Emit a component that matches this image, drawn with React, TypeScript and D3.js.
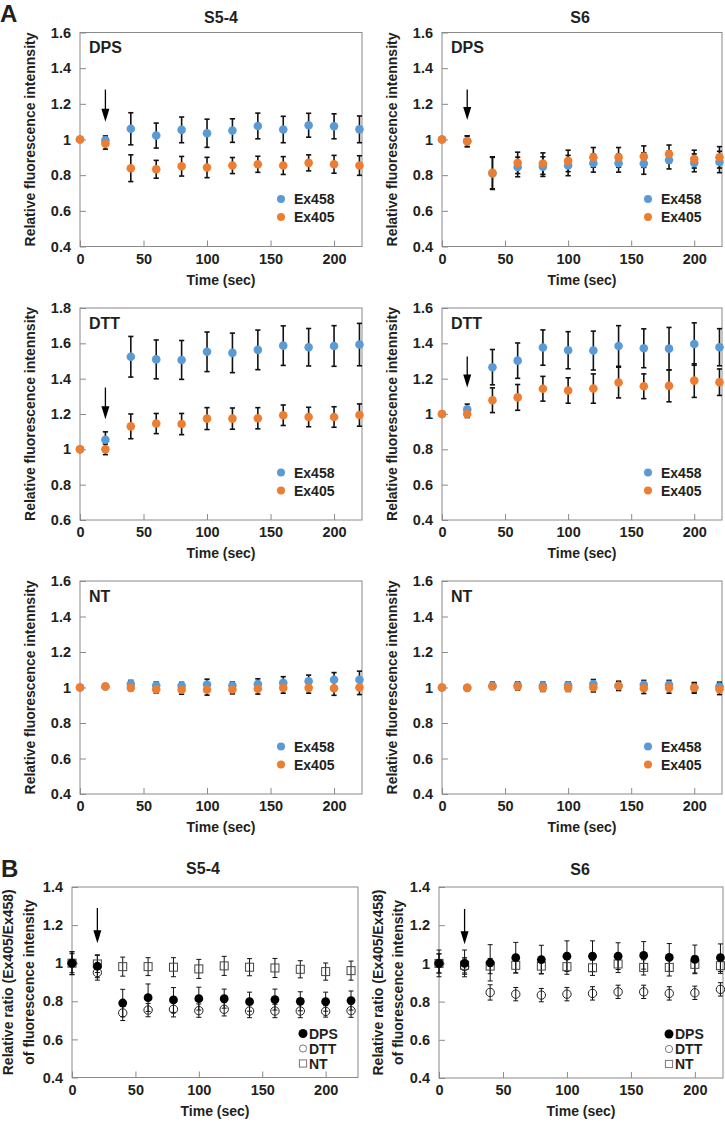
import * as d3 from 'd3'
import { useEffect, useRef } from 'react'

// sampling times (sec)
const times = [0, 20, 40, 60, 80, 100, 120, 140, 160, 180, 200, 220]
const xTickValues = [0, 50, 100, 150, 200]
const yTicksLow = [0.4, 0.6, 0.8, 1.0, 1.2, 1.4, 1.6]
const yTicksHigh = [0.6, 0.8, 1.0, 1.2, 1.4, 1.6, 1.8]
const yTicksRatio = [0.4, 0.6, 0.8, 1.0, 1.2, 1.4]

// A: DPS
const dpsS54Ex458 = [1.0, 0.995, 1.06, 1.022, 1.054, 1.035, 1.05, 1.076, 1.056, 1.08, 1.074, 1.057]
const dpsS54Ex458Err = [0, 0.025, 0.09, 0.07, 0.072, 0.079, 0.066, 0.072, 0.074, 0.067, 0.07, 0.075]
const dpsS54Ex405 = [1.0, 0.976, 0.839, 0.833, 0.85, 0.843, 0.854, 0.861, 0.854, 0.869, 0.861, 0.854]
const dpsS54Ex405Err = [0, 0.03, 0.075, 0.05, 0.055, 0.057, 0.045, 0.045, 0.05, 0.045, 0.05, 0.055]

const dpsS6Ex458 = [1.0, 0.99, 0.81, 0.846, 0.848, 0.854, 0.867, 0.867, 0.865, 0.885, 0.869, 0.874]
const dpsS6Ex458Err = [0, 0.03, 0.09, 0.055, 0.055, 0.057, 0.05, 0.05, 0.06, 0.05, 0.05, 0.06]
const dpsS6Ex405 = [1.0, 0.99, 0.813, 0.869, 0.865, 0.88, 0.9, 0.9, 0.904, 0.919, 0.89, 0.9]
const dpsS6Ex405Err = [0, 0.03, 0.09, 0.06, 0.06, 0.06, 0.055, 0.055, 0.06, 0.05, 0.05, 0.06]

// A: DTT
const dttS54Ex458 = [1.0, 1.054, 1.524, 1.509, 1.506, 1.552, 1.546, 1.563, 1.587, 1.578, 1.585, 1.593]
const dttS54Ex458Err = [0, 0.045, 0.115, 0.11, 0.11, 0.112, 0.112, 0.112, 0.112, 0.106, 0.115, 0.12]
const dttS54Ex405 = [1.0, 1.0, 1.13, 1.146, 1.143, 1.174, 1.174, 1.176, 1.193, 1.183, 1.183, 1.194]
const dttS54Ex405Err = [0, 0.03, 0.07, 0.057, 0.06, 0.062, 0.06, 0.06, 0.058, 0.055, 0.058, 0.063]

const dttS6Ex458 = [1.0, 1.026, 1.265, 1.302, 1.376, 1.361, 1.359, 1.385, 1.372, 1.37, 1.396, 1.378]
const dttS6Ex458Err = [0, 0.03, 0.1, 0.1, 0.1, 0.105, 0.11, 0.115, 0.11, 0.12, 0.12, 0.105]
const dttS6Ex405 = [1.0, 1.0, 1.078, 1.094, 1.143, 1.133, 1.144, 1.178, 1.157, 1.159, 1.189, 1.18]
const dttS6Ex405Err = [0, 0.02, 0.07, 0.073, 0.07, 0.072, 0.083, 0.087, 0.07, 0.09, 0.095, 0.075]

// A: NT
const ntS54Ex458 = [1.0, 1.006, 1.02, 1.011, 1.009, 1.017, 1.011, 1.019, 1.026, 1.035, 1.044, 1.044]
const ntS54Ex458Err = [0, 0.012, 0.02, 0.02, 0.02, 0.03, 0.02, 0.03, 0.035, 0.035, 0.04, 0.048]
const ntS54Ex405 = [1.0, 1.006, 0.998, 0.989, 0.987, 0.987, 0.989, 0.993, 0.998, 0.998, 0.996, 1.0]
const ntS54Ex405Err = [0, 0.012, 0.015, 0.02, 0.025, 0.03, 0.025, 0.03, 0.03, 0.03, 0.04, 0.04]

const ntS6Ex458 = [1.0, 0.998, 1.01, 1.012, 1.01, 1.012, 1.02, 1.01, 1.015, 1.015, 1.0, 1.005]
const ntS6Ex458Err = [0, 0.01, 0.02, 0.02, 0.02, 0.02, 0.025, 0.025, 0.025, 0.025, 0.025, 0.025]
const ntS6Ex405 = [1.0, 0.998, 1.006, 1.006, 0.998, 0.998, 1.0, 1.008, 0.996, 0.998, 0.998, 0.99]
const ntS6Ex405Err = [0, 0.01, 0.015, 0.02, 0.02, 0.02, 0.025, 0.025, 0.03, 0.03, 0.03, 0.03]

// B: ratio Ex405/Ex458
const ratioS54Dps = [1.0, 0.984, 0.791, 0.819, 0.807, 0.814, 0.814, 0.798, 0.809, 0.8, 0.798, 0.804]
const ratioS54DpsErr = [0.06, 0.06, 0.072, 0.072, 0.065, 0.06, 0.05, 0.05, 0.055, 0.05, 0.05, 0.05]
const ratioS54Dtt = [1.0, 0.951, 0.739, 0.754, 0.758, 0.751, 0.758, 0.749, 0.749, 0.749, 0.747, 0.751]
const ratioS54DttErr = [0.06, 0.04, 0.04, 0.035, 0.04, 0.035, 0.035, 0.035, 0.035, 0.035, 0.03, 0.035]
const ratioS54Nt = [1.0, 0.996, 0.982, 0.982, 0.979, 0.97, 0.986, 0.979, 0.975, 0.968, 0.956, 0.961]
const ratioS54NtErr = [0.05, 0.045, 0.05, 0.047, 0.05, 0.05, 0.05, 0.045, 0.05, 0.045, 0.045, 0.05]

const ratioS6Dps = [1.0, 1.0, 1.003, 1.03, 1.02, 1.038, 1.038, 1.038, 1.042, 1.031, 1.021, 1.03]
const ratioS6DpsErr = [0.07, 0.07, 0.095, 0.08, 0.075, 0.08, 0.08, 0.07, 0.072, 0.073, 0.075, 0.072]
const ratioS6Dtt = [1.0, 0.983, 0.848, 0.839, 0.834, 0.839, 0.843, 0.851, 0.851, 0.843, 0.846, 0.864]
const ratioS6DttErr = [0.05, 0.04, 0.04, 0.035, 0.035, 0.035, 0.035, 0.035, 0.035, 0.035, 0.035, 0.035]
const ratioS6Nt = [1.0, 0.99, 0.986, 0.99, 0.986, 0.983, 0.977, 0.997, 0.979, 0.979, 0.995, 0.988]
const ratioS6NtErr = [0.05, 0.04, 0.04, 0.04, 0.04, 0.04, 0.04, 0.045, 0.04, 0.045, 0.045, 0.04]

const FONT = '"Liberation Sans", Arial, Helvetica, sans-serif'
const INK = '#231f20'
const FRAME = '#8a8a8a'
const BLUE = '#5B9BD5'
const ORANGE = '#ED7D31'

type Box = {
  left: number
  right: number
  top: number
  bottom: number
  xMax: number
  yMin: number
  yMax: number
  yTicks: number[]
}

type Sel = d3.Selection<SVGSVGElement, unknown, null, undefined>

const fmt = (d: d3.NumberValue) => String(Math.round(+d * 10) / 10)

function drawFrame(svg: Sel, box: Box) {
  const x = d3.scaleLinear().domain([0, box.xMax]).range([box.left, box.right])
  const y = d3.scaleLinear().domain([box.yMin, box.yMax]).range([box.bottom, box.top])

  const yAxis = svg
    .append('g')
    .attr('transform', `translate(${box.left},0)`)
    .call(d3.axisLeft(y).tickValues(box.yTicks).tickSize(-6).tickPadding(9).tickFormat(fmt))
  const xAxis = svg
    .append('g')
    .attr('transform', `translate(0,${box.bottom})`)
    .call(d3.axisBottom(x).tickValues(xTickValues).tickSize(-6).tickPadding(7).tickFormat(fmt))

  ;[yAxis, xAxis].forEach(a => {
    a.select('.domain').remove()
    a.selectAll('line').attr('stroke', FRAME)
    a.selectAll('text')
      .attr('fill', INK)
      .attr('font-family', FONT)
      .attr('font-size', 14.5)
      .attr('font-weight', 'bold')
  })

  svg
    .append('rect')
    .attr('x', box.left)
    .attr('y', box.top)
    .attr('width', box.right - box.left)
    .attr('height', box.bottom - box.top)
    .attr('fill', 'none')
    .attr('stroke', FRAME)
    .attr('stroke-width', 1)

  // x title
  svg
    .append('text')
    .attr('x', (box.left + box.right) / 2)
    .attr('y', box.bottom + 38)
    .attr('text-anchor', 'middle')
    .attr('font-family', FONT)
    .attr('font-size', 14)
    .attr('font-weight', 'bold')
    .attr('fill', INK)
    .text('Time (sec)')

  return { x, y }
}

function yTitle(svg: Sel, x: number, y: number, label: string) {
  svg
    .append('text')
    .attr('transform', `translate(${x},${y}) rotate(-90)`)
    .attr('text-anchor', 'middle')
    .attr('font-family', FONT)
    .attr('font-size', 14)
    .attr('font-weight', 'bold')
    .attr('fill', INK)
    .text(label)
}

function label(svg: Sel, x: number, y: number, str: string, size: number, anchor = 'start') {
  svg
    .append('text')
    .attr('x', x)
    .attr('y', y)
    .attr('text-anchor', anchor)
    .attr('font-family', FONT)
    .attr('font-size', size)
    .attr('font-weight', 'bold')
    .attr('fill', INK)
    .text(str)
}

function errorBars(
  svg: Sel,
  x: d3.ScaleLinear<number, number>,
  y: d3.ScaleLinear<number, number>,
  values: number[],
  errs: number[],
  cap: number,
  width: number
) {
  const g = svg.append('g').attr('stroke', '#111').attr('stroke-width', width)
  times.forEach((t, i) => {
    const e = errs[i]
    if (!e) return
    const cx = x(t)
    const hi = y(values[i] + e)
    const lo = y(values[i] - e)
    g.append('line').attr('x1', cx).attr('x2', cx).attr('y1', hi).attr('y2', lo)
    g.append('line').attr('x1', cx - cap).attr('x2', cx + cap).attr('y1', hi).attr('y2', hi)
    g.append('line').attr('x1', cx - cap).attr('x2', cx + cap).attr('y1', lo).attr('y2', lo)
  })
}

function arrow(
  svg: Sel,
  x: d3.ScaleLinear<number, number>,
  y: d3.ScaleLinear<number, number>,
  t: number,
  from: number,
  to: number
) {
  const cx = x(t)
  const y0 = y(from)
  const y1 = y(to)
  svg
    .append('line')
    .attr('x1', cx)
    .attr('x2', cx)
    .attr('y1', y0)
    .attr('y2', y1 - 8)
    .attr('stroke', '#000')
    .attr('stroke-width', 1.3)
  svg
    .append('path')
    .attr('d', `M${cx - 4},${y1 - 13}L${cx + 4},${y1 - 13}L${cx},${y1}Z`)
    .attr('fill', '#000')
}

interface PanelA {
  box: Box
  tag: string
  ex458: number[]
  ex458Err: number[]
  ex405: number[]
  ex405Err: number[]
  arrowFrom?: number
  arrowTo?: number
  legendDx: number
}

interface PanelB {
  box: Box
  dps: number[]
  dpsErr: number[]
  dtt: number[]
  dttErr: number[]
  nt: number[]
  ntErr: number[]
  arrowFrom: number
  arrowTo: number
  legendX: number
  labelDx: [number, number]
}

const colA = [
  { left: 80, right: 362, legendDx: 201 },
  { left: 442, right: 722, legendDx: 206 },
]
const rowA = [
  { top: 32.5, bottom: 246.5 },
  { top: 308, bottom: 520 },
  { top: 581, bottom: 794 },
]

export default function App() {
  const svgRef = useRef<SVGSVGElement>(null)

  useEffect(() => {
    if (!svgRef.current) return
    const svg = d3.select(svgRef.current)
    svg.selectAll('*').remove()

    const mk = (c: number, r: number, yMin: number, yMax: number, yTicks: number[]): Box => ({
      left: colA[c].left,
      right: colA[c].right,
      top: rowA[r].top,
      bottom: rowA[r].bottom,
      xMax: 222,
      yMin,
      yMax,
      yTicks,
    })

    const panelsA: PanelA[] = [
      { box: mk(0, 0, 0.4, 1.6, yTicksLow), tag: 'DPS', ex458: dpsS54Ex458, ex458Err: dpsS54Ex458Err, ex405: dpsS54Ex405, ex405Err: dpsS54Ex405Err, arrowFrom: 1.28, arrowTo: 1.1, legendDx: colA[0].legendDx },
      { box: mk(1, 0, 0.4, 1.6, yTicksLow), tag: 'DPS', ex458: dpsS6Ex458, ex458Err: dpsS6Ex458Err, ex405: dpsS6Ex405, ex405Err: dpsS6Ex405Err, arrowFrom: 1.28, arrowTo: 1.11, legendDx: colA[1].legendDx },
      { box: mk(0, 1, 0.6, 1.8, yTicksHigh), tag: 'DTT', ex458: dttS54Ex458, ex458Err: dttS54Ex458Err, ex405: dttS54Ex405, ex405Err: dttS54Ex405Err, arrowFrom: 1.35, arrowTo: 1.17, legendDx: colA[0].legendDx },
      { box: mk(1, 1, 0.4, 1.6, yTicksLow), tag: 'DTT', ex458: dttS6Ex458, ex458Err: dttS6Ex458Err, ex405: dttS6Ex405, ex405Err: dttS6Ex405Err, arrowFrom: 1.325, arrowTo: 1.15, legendDx: colA[1].legendDx },
      { box: mk(0, 2, 0.4, 1.6, yTicksLow), tag: 'NT', ex458: ntS54Ex458, ex458Err: ntS54Ex458Err, ex405: ntS54Ex405, ex405Err: ntS54Ex405Err, legendDx: colA[0].legendDx },
      { box: mk(1, 2, 0.4, 1.6, yTicksLow), tag: 'NT', ex458: ntS6Ex458, ex458Err: ntS6Ex458Err, ex405: ntS6Ex405, ex405Err: ntS6Ex405Err, legendDx: colA[1].legendDx },
    ]

    panelsA.forEach(p => {
      const { x, y } = drawFrame(svg, p.box)
      const b = p.box
      yTitle(svg, b.left - 45, (b.top + b.bottom) / 2, 'Relative fluorescence intennsity')
      label(svg, b.left + 9, b.top + 20.5, p.tag, 16)

      errorBars(svg, x, y, p.ex458, p.ex458Err, 2.6, 1.6)
      errorBars(svg, x, y, p.ex405, p.ex405Err, 2.6, 1.6)
      svg
        .append('g')
        .selectAll('circle')
        .data(times)
        .join('circle')
        .attr('cx', d => x(d))
        .attr('cy', (_, i) => y(p.ex458[i]))
        .attr('r', 4.3)
        .attr('fill', BLUE)
      svg
        .append('g')
        .selectAll('circle')
        .data(times)
        .join('circle')
        .attr('cx', d => x(d))
        .attr('cy', (_, i) => y(p.ex405[i]))
        .attr('r', 4.3)
        .attr('fill', ORANGE)

      if (p.arrowFrom !== undefined && p.arrowTo !== undefined) {
        arrow(svg, x, y, 20, p.arrowFrom, p.arrowTo)
      }

      // legend
      const lx = b.left + p.legendDx
      ;[
        { name: 'Ex458', color: BLUE, dy: -47.5 },
        { name: 'Ex405', color: ORANGE, dy: -29.5 },
      ].forEach(l => {
        svg.append('circle').attr('cx', lx).attr('cy', b.bottom + l.dy).attr('r', 4).attr('fill', l.color)
        label(svg, lx + 13, b.bottom + l.dy + 5, l.name, 14)
      })
    })

    // panel titles and letters
    label(svg, 221, 23, 'S5-4', 16, 'middle')
    label(svg, 580, 23, 'S6', 16, 'middle')
    label(svg, 0, 22, 'A', 24)
    label(svg, 1, 877, 'B', 24)
    label(svg, 203, 874, 'S5-4', 16, 'middle')
    label(svg, 580, 875, 'S6', 16, 'middle')

    const panelsB: PanelB[] = [
      {
        box: { left: 72, right: 358, top: 887, bottom: 1077.5, xMax: 225.5, yMin: 0.4, yMax: 1.4, yTicks: yTicksRatio },
        dps: ratioS54Dps, dpsErr: ratioS54DpsErr, dtt: ratioS54Dtt, dttErr: ratioS54DttErr, nt: ratioS54Nt, ntErr: ratioS54NtErr,
        arrowFrom: 1.29, arrowTo: 1.105, legendX: 303, labelDx: [-59, -38],
      },
      {
        box: { left: 439, right: 723, top: 887, bottom: 1078, xMax: 222, yMin: 0.4, yMax: 1.4, yTicks: yTicksRatio },
        dps: ratioS6Dps, dpsErr: ratioS6DpsErr, dtt: ratioS6Dtt, dttErr: ratioS6DttErr, nt: ratioS6Nt, ntErr: ratioS6NtErr,
        arrowFrom: 1.285, arrowTo: 1.1, legendX: 669, labelDx: [-56, -36],
      },
    ]

    panelsB.forEach(p => {
      const { x, y } = drawFrame(svg, p.box)
      const b = p.box
      const cy = (b.top + b.bottom) / 2
      yTitle(svg, b.left + p.labelDx[0], cy, 'Relative ratio (Ex405/Ex458)')
      yTitle(svg, b.left + p.labelDx[1], cy, 'of fluorescence intensity')

      errorBars(svg, x, y, p.nt, p.ntErr, 2.5, 1)
      errorBars(svg, x, y, p.dtt, p.dttErr, 2.5, 1)
      errorBars(svg, x, y, p.dps, p.dpsErr, 2.5, 1)

      svg
        .append('g')
        .selectAll('rect')
        .data(times)
        .join('rect')
        .attr('x', d => x(d) - 4)
        .attr('y', (_, i) => y(p.nt[i]) - 4)
        .attr('width', 8)
        .attr('height', 8)
        .attr('fill', 'none')
        .attr('stroke', '#444')
        .attr('stroke-width', 1)
      svg
        .append('g')
        .selectAll('circle')
        .data(times)
        .join('circle')
        .attr('cx', d => x(d))
        .attr('cy', (_, i) => y(p.dtt[i]))
        .attr('r', 4.2)
        .attr('fill', 'none')
        .attr('stroke', '#222')
        .attr('stroke-width', 1)
      svg
        .append('g')
        .selectAll('circle')
        .data(times)
        .join('circle')
        .attr('cx', d => x(d))
        .attr('cy', (_, i) => y(p.dps[i]))
        .attr('r', 4.4)
        .attr('fill', '#000')

      arrow(svg, x, y, 20, p.arrowFrom, p.arrowTo)

      // legend
      const lx = p.legendX
      svg.append('circle').attr('cx', lx).attr('cy', b.bottom - 44).attr('r', 4.5).attr('fill', '#000')
      label(svg, lx + 6, b.bottom - 39, 'DPS', 14)
      svg.append('circle').attr('cx', lx).attr('cy', b.bottom - 29).attr('r', 3.6).attr('fill', 'none').attr('stroke', '#777')
      label(svg, lx + 6, b.bottom - 24, 'DTT', 14)
      svg.append('rect').attr('x', lx - 3.6).attr('y', b.bottom - 17.6).attr('width', 7.2).attr('height', 7.2).attr('fill', 'none').attr('stroke', '#777')
      label(svg, lx + 6, b.bottom - 9, 'NT', 14)
    })
  }, [])

  return (
    <svg
      ref={svgRef}
      width={725}
      height={1123}
      style={{ position: 'absolute', left: 0, top: 0, background: '#fff' }}
    ></svg>
  )
}
